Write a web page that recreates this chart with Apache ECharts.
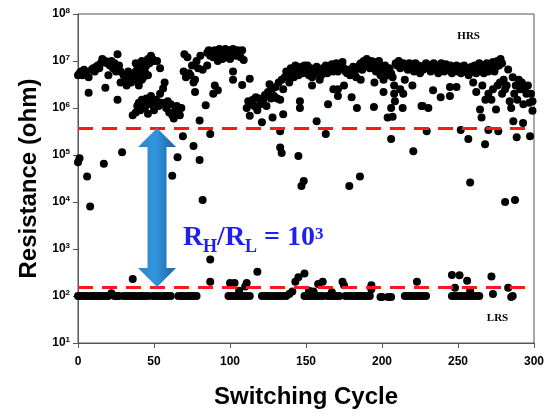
<!DOCTYPE html>
<html>
<head>
<meta charset="utf-8">
<script src="https://cdn.jsdelivr.net/npm/echarts@6/dist/echarts.min.js"></script>
<style>
  html, body { margin: 0; padding: 0; background: #fff; }
  #chart { width: 550px; height: 419px; }
</style>
</head>
<body>
<div id="chart"></div>
<script>
"use strict";

// cycle -> resistance (ohm)
const hrsPoints = [
  [0, 7e4], [1, 8.5e4], [0, 5e6], [1, 5.5e6], [2, 6e6], [3, 5e6], [4, 6.5e6], [5, 5.5e6],
  [6, 3.5e4], [7, 4.5e6], [7, 2.1e6], [8, 8e3], [9, 6.5e6], [10, 7e6], [11, 6e6], [12, 7.5e6],
  [13, 8e6], [14, 7e6], [15, 9e6], [16, 1.1e7], [17, 6.5e4], [18, 2.7e6], [18, 1e7], [19, 9e6],
  [20, 5e6], [21, 8e6], [22, 1e7], [23, 7e6], [24, 9e6], [25, 6e6], [26, 1.4e7], [26, 1.5e6],
  [27, 8e6], [28, 6e6], [28, 3.5e6], [29, 1.15e5], [30, 5e6], [31, 4e6], [32, 3e6], [33, 6e6],
  [34, 4.5e6], [35, 3.5e6], [36, 5e6], [37, 4e6], [38, 6e6], [38, 9e6], [39, 8e6], [40, 5e6],
  [40, 3e6], [41, 7e6], [42, 1e7], [42, 4e6], [43, 4.5e6], [44, 6e6], [44, 8e6], [45, 8e6],
  [46, 5e6], [46, 1.1e7], [47, 9e6], [48, 1.3e7], [49, 1.1e7], [50, 1e7], [52, 1e7], [54, 7e6],
  [36, 7e5], [38, 8e5], [39, 1.1e6], [40, 1.3e6], [41, 9e5], [42, 1.5e6], [43, 1.2e6], [44, 1e6],
  [45, 1.6e6], [46, 7.5e5], [47, 1.2e6], [48, 1.8e6], [49, 1.3e6], [50, 9e5], [51, 1.5e6],
  [52, 1.4e6], [53, 1.1e6], [54, 2e6], [55, 1.3e6], [56, 2.6e6], [57, 3.5e6], [58, 1e6],
  [59, 1.4e6], [60, 8e5], [61, 1.2e6], [62, 7e5], [63, 6e5], [64, 9e5], [65, 1.1e6], [66, 8e5],
  [67, 7e5], [68, 1e6], [62, 3.6e4], [65.5, 9e4], [69, 2.5e5], [76, 1.55e5], [80, 7.8e4],
  [82, 1.1e4], [80, 5.4e5], [87, 2.8e5], [84, 1.15e6], [77, 2.2e6],
  [70, 1.4e7], [72, 1.2e7], [69.5, 6e6], [71, 4.5e6], [73, 5.5e6], [75, 8e6], [78, 1e7],
  [79, 7e6], [77, 4e6], [76, 3.5e6], [80.5, 1.3e7], [85, 8e6], [82, 6.5e6], [74, 5e6],
  [85, 1.5e7], [86, 1.7e7], [87, 1.3e7], [88, 1.6e7], [89, 1.2e7], [90, 1.7e7], [91, 1.4e7],
  [92, 1.6e7], [93, 1.8e7], [94, 1.3e7], [95, 1.7e7], [96, 1.5e7], [97, 1.8e7], [98, 1.2e7],
  [99, 1.6e7], [100, 1.7e7], [101, 1.4e7], [102, 1.8e7], [103, 1.5e7], [104, 1.3e7],
  [105, 1.7e7], [106, 1.6e7], [107, 1.2e7], [108, 1.7e7], [109, 1.05e7], [92, 1e7],
  [95, 1.1e7], [100, 1.1e7], [102, 6e6], [102, 4e6], [108, 3.1e6], [113, 4.2e6], [92, 2.4e6],
  [89, 2e6], [90, 3e6],
  [111, 1e6], [112, 1.4e6], [113, 6.8e5], [114, 1.2e6], [115, 1.5e6], [116, 1.1e6], [117, 1.7e6],
  [118, 9e5], [119, 1.6e6], [120, 1.2e6], [121, 5e5], [122, 1.5e6], [123, 1.9e6], [124, 1.1e6],
  [125, 2.2e6], [126, 3.2e6], [127, 1.6e6], [128, 6.3e5], [128, 2.6e6], [129, 1.8e6],
  [130, 2.8e6], [131, 1.6e6], [132, 3.5e6], [133, 1.5e6], [133, 3.2e5], [133, 1.45e5],
  [134, 1.1e5], [135, 7.4e5], [134, 4e6], [135, 2.5e6],
  [136, 4.5e6], [137, 6e6], [138, 5e6], [139, 3.5e6], [140, 7e6], [141, 6e6], [142, 4.5e6],
  [143, 8e6], [144, 6.5e6], [145, 5e6], [146, 1.4e6], [146, 1e6], [145, 9.5e4], [147, 2.2e4],
  [148.5, 2.8e4], [147, 7.5e6], [148, 5.5e6], [149, 8e6],
  [150, 6e6], [151, 8e6], [152, 5e6], [153, 7e6], [154, 4.5e6], [155, 6.5e6], [156, 5.5e6],
  [157, 7.5e6], [158, 6e6], [159, 4e6], [160, 5e6], [161, 7e6], [162, 6e6], [163, 8e6],
  [164, 5.5e6], [165, 7e6], [166, 6.5e6], [167, 8.5e6], [168, 6e6], [169, 7.5e6], [170, 9e6],
  [171, 6e6], [172, 7e6], [173, 8.5e6], [174, 9.5e6], [175, 7e6], [176, 6e6], [177, 5.5e6],
  [178, 6.5e6], [179, 5e6], [180, 6e6], [181, 7.5e6], [182, 5.5e6], [183, 4.5e6], [184, 7e6],
  [185, 8e6], [186, 9e6], [187, 6.5e6], [188, 1e7], [189, 8e6], [190, 1.1e7], [191, 9e6],
  [192, 7e6], [193, 1e7], [194, 8.5e6], [195, 9.5e6], [196, 6e6], [197, 7.5e6], [198, 1e7],
  [199, 5e6], [200, 7e6], [201, 4e6], [202, 8e6], [203, 6e6], [204, 5e6], [205, 7e6],
  [206, 5.5e6], [207, 4.5e6], [208, 3e6], [208, 2e6], [209, 9e6], [210, 8e6], [211, 1e7],
  [212, 7e6], [213, 8.5e6], [214, 9e6], [215, 7.5e6], [216, 8e6], [217, 6.5e6], [218, 9e6],
  [219, 7e6], [220, 8.5e6], [221, 6e6], [222, 9e6], [223, 7e6], [224, 8e6], [225, 5.5e6],
  [226, 7.5e6], [227, 6.5e6], [228, 8e6], [229, 9e6], [230, 7e6],
  [157, 5.2e5], [163, 2.8e5], [164.5, 1.2e6], [171, 2.5e6], [171, 1.8e6], [180, 1.7e6],
  [183.5, 1e6], [194.7, 1.05e6], [201, 2.2e6], [208.5, 1.4e6], [206, 1e6], [213.6, 1e6],
  [203.7, 6.3e5], [207, 6.5e5], [206, 2.2e5], [220.6, 1.2e5], [226, 1.1e6], [178.5, 2.2e4],
  [185.5, 3.5e4], [154, 3e6], [168, 2.5e6], [195, 3.5e6], [175, 3e6], [186, 4e6], [215, 4e6],
  [220, 3e6], [212, 2.5e6], [214, 2e6],
  [231, 8e6], [232, 6e6], [233, 7e6], [234, 9e6], [235, 6.5e6], [236, 8e6], [237, 5.5e6],
  [238, 7.5e6], [239, 9e6], [240, 7e6], [241, 6e6], [242, 8.5e6], [243, 6.5e6], [244, 7e6],
  [245, 8e6], [246, 5.5e6], [247, 6e6], [248, 7e6], [249, 8e6], [250, 6e6], [251, 7.5e6],
  [252, 5.5e6], [253, 6.5e6], [254, 8e6], [255, 6e6], [256, 7e6], [257, 5e6], [258, 6.5e6],
  [259, 7.5e6], [260, 6e6], [261, 8e6], [262, 5.5e6], [263, 7e6], [264, 9e6], [265, 6.5e6],
  [266, 8e6], [267, 5.5e6], [268, 7e6], [269, 9e6], [270, 6e6], [271, 8.5e6], [272, 7e6],
  [273, 9.5e6], [274, 6e6], [275, 7.5e6], [276, 1e7], [277, 8e6], [278, 1.1e7], [279, 9e6],
  [264.5, 9.3e5], [265.5, 6.3e5], [268, 1.5e6], [272, 1.5e6], [275, 9.3e5], [277.6, 3.5e6],
  [283, 6.6e6], [284, 1.4e6], [285, 1e6], [291, 2.5e6], [295, 2e6], [297, 1.3e6], [299, 8.7e5],
  [299, 1.4e6], [280, 4e6], [282, 3e6], [286, 4.5e6], [288, 3e6], [290, 4e6], [292, 3.5e6],
  [294, 2.5e6], [296, 3e6], [298, 2e6], [287, 2e6], [289, 1.5e6], [293, 1.2e6], [270, 2e6],
  [273, 2.5e6], [276, 3e6], [279, 2e6], [281, 2.5e6], [266, 3e6], [262, 2.2e6], [260, 3.5e6],
  [229.4, 3.2e5], [251.8, 3.4e5], [256.8, 2.2e5], [258, 2.6e4], [267.8, 1.7e5], [270, 3.4e5],
  [276.5, 3.2e5], [281, 1e4], [287.5, 1.1e4], [286.4, 5.2e5], [288.6, 2.4e5], [292.8, 4.8e5],
  [297.4, 2.5e5], [233.6, 2.4e6], [238.6, 1.7e6], [244.7, 2.8e6], [244.7, 1.8e6], [249, 2.8e6],
  [226.8, 1.1e6], [230.5, 1e6]
];

const lrsPoints = [
  [0, 100], [2, 100], [4, 100], [6, 100], [8, 100], [10, 100], [12, 100], [14, 100], [16, 100],
  [18, 100], [20, 100], [22, 115], [24, 100], [26, 100], [27, 100],
  [30, 100], [32, 100], [34, 100], [36, 100], [38, 100], [40, 100], [42, 100], [44, 100],
  [46, 100], [36, 230],
  [49, 100], [51, 100], [53, 100], [55, 100], [57, 100], [59, 100], [61, 100],
  [66, 100], [68, 100], [70, 100], [72, 100], [74, 100], [76, 100], [78, 100],
  [87, 600], [87, 200],
  [99, 100], [101, 100], [103, 100], [105, 100], [107, 100], [109, 100], [111, 100], [113, 100],
  [100, 190], [103, 190], [111, 190], [110, 160], [118, 330], [106, 130],
  [121, 100], [123, 100], [125, 100], [127, 100], [129, 100], [131, 100], [133, 100],
  [135, 100], [137, 100], [139, 110], [141, 125], [143, 200], [145, 250],
  [149, 100], [151, 100], [153, 100], [155, 100], [157, 100], [159, 100], [161, 100],
  [149, 300], [152, 130], [155, 125], [158, 180], [161, 200],
  [164, 100], [166, 100], [168, 100], [170, 100], [172, 100], [167, 120],
  [176, 100], [178, 100], [180, 100], [182, 100], [184, 100], [186, 100], [188, 100],
  [190, 100], [192, 100], [174, 200], [175, 170], [193, 170], [193, 140],
  [199, 95], [200, 95], [204, 95], [206, 95],
  [215, 100], [217, 100], [219, 100], [221, 100], [223, 100], [225, 100], [227, 100],
  [229, 100], [223, 200],
  [246, 100], [248, 100], [250, 100], [252, 100], [254, 100], [256, 100], [258, 100],
  [260, 100], [262, 100], [264, 100], [246, 280], [251, 275], [256, 210], [248, 150], [258, 130],
  [272, 260], [273, 110], [283, 150], [285, 95], [286, 100]
];

const hrsLevel = 3.75e5;   // upper red dashed line
const lrsLevel = 155;      // lower red dashed line
const arrowCycle = 52;
const ratioAnchor = [69, 7e2];
const hrsLabelAt = [257, 3.4e7];
const lrsLabelAt = [276, 34];

const chart = echarts.init(document.getElementById("chart"));

const axisColor = "#555";
const sans = "Liberation Sans";
const serif = "Liberation Serif";

chart.setOption({
  animation: false,
  grid: {
    left: 78, right: 16, top: 14, bottom: 76,
    show: true, borderColor: axisColor, borderWidth: 1
  },
  xAxis: {
    type: "value",
    min: 0, max: 300, interval: 50,
    name: "Switching Cycle",
    nameLocation: "middle",
    nameGap: 42,
    nameTextStyle: { fontFamily: sans, fontWeight: "bold", fontSize: 24, color: "#000" },
    axisLine: { lineStyle: { color: axisColor } },
    axisTick: { length: 5, lineStyle: { color: axisColor } },
    axisLabel: { fontFamily: sans, fontWeight: "bold", fontSize: 12, color: "#000", margin: 13 },
    splitLine: { show: false }
  },
  yAxis: {
    type: "log",
    logBase: 10,
    min: 10, max: 1e8,
    name: "Resistance (ohm)",
    nameLocation: "middle",
    nameGap: 36,
    nameTextStyle: { fontFamily: sans, fontWeight: "bold", fontSize: 24, color: "#000" },
    axisLine: { show: true, lineStyle: { color: axisColor } },
    axisTick: { show: true, length: 5, lineStyle: { color: axisColor } },
    axisLabel: {
      margin: 8,
      formatter: (v) => "{b|10}{s|" + Math.round(Math.log10(v)) + "}",
      rich: {
        b: { fontFamily: sans, fontWeight: "bold", fontSize: 12, color: "#000", lineHeight: 14 },
        s: { fontFamily: sans, fontWeight: "bold", fontSize: 8, color: "#000", verticalAlign: "top", lineHeight: 14 }
      }
    },
    splitLine: { show: false }
  },
  series: [
    {
      name: "HRS",
      type: "scatter",
      data: hrsPoints,
      symbolSize: 8,
      itemStyle: { color: "#000", opacity: 1 },
      markLine: {
        silent: true,
        symbol: "none",
        label: { show: false },
        lineStyle: { color: "#ff1a1a", width: 3, type: [15, 9] },
        data: [{ yAxis: hrsLevel }, { yAxis: lrsLevel }]
      }
    },
    {
      name: "LRS",
      type: "scatter",
      data: lrsPoints,
      symbolSize: 8,
      itemStyle: { color: "#000", opacity: 1 }
    }
  ]
});

// annotations placed through the chart's own scales
const toPx = (p) => chart.convertToPixel({ gridIndex: 0 }, p);
const arrowTop = toPx([arrowCycle, hrsLevel]);
const arrowBot = toPx([arrowCycle, lrsLevel]);
const xc = arrowTop[0], yT = arrowTop[1], yB = arrowBot[1];
const hw = 19, sw = 9.5, hh = 19;
const ratioPx = toPx(ratioAnchor);
const hrsPx = toPx(hrsLabelAt);
const lrsPx = toPx(lrsLabelAt);

chart.setOption({
  graphic: [
    {
      type: "polygon",
      z: 10,
      shape: {
        points: [
          [xc, yT], [xc + hw, yT + hh], [xc + sw, yT + hh], [xc + sw, yB - hh], [xc + hw, yB - hh],
          [xc, yB], [xc - hw, yB - hh], [xc - sw, yB - hh], [xc - sw, yT + hh], [xc - hw, yT + hh]
        ]
      },
      style: {
        fill: new echarts.graphic.LinearGradient(0, 0, 1, 0, [
          { offset: 0, color: "#2a84cc" },
          { offset: 0.45, color: "#3296dc" },
          { offset: 1, color: "#1b62a4" }
        ])
      }
    },
    {
      type: "text",
      z: 10,
      x: ratioPx[0],
      y: ratioPx[1],
      style: {
        text: "{a|R}{sub|H}{a|/R}{sub|L}{a| = 10}{sup|3}",
        verticalAlign: "bottom",
        rich: {
          a: { fontFamily: serif, fontWeight: "bold", fontSize: 28, fill: "#1f1fef", lineHeight: 30, padding: [0, 0, 7, 0] },
          sub: { fontFamily: serif, fontWeight: "bold", fontSize: 18, fill: "#1f1fef", verticalAlign: "bottom", lineHeight: 20 },
          sup: { fontFamily: serif, fontWeight: "bold", fontSize: 17, fill: "#1f1fef", verticalAlign: "top", lineHeight: 18 }
        }
      }
    },
    {
      type: "text",
      x: hrsPx[0], y: hrsPx[1],
      style: { text: "HRS", fontFamily: serif, fontWeight: "bold", fontSize: 11, fill: "#000", align: "center", verticalAlign: "middle" }
    },
    {
      type: "text",
      x: lrsPx[0], y: lrsPx[1],
      style: { text: "LRS", fontFamily: serif, fontWeight: "bold", fontSize: 11, fill: "#000", align: "center", verticalAlign: "middle" }
    }
  ]
});
</script>
</body>
</html>
